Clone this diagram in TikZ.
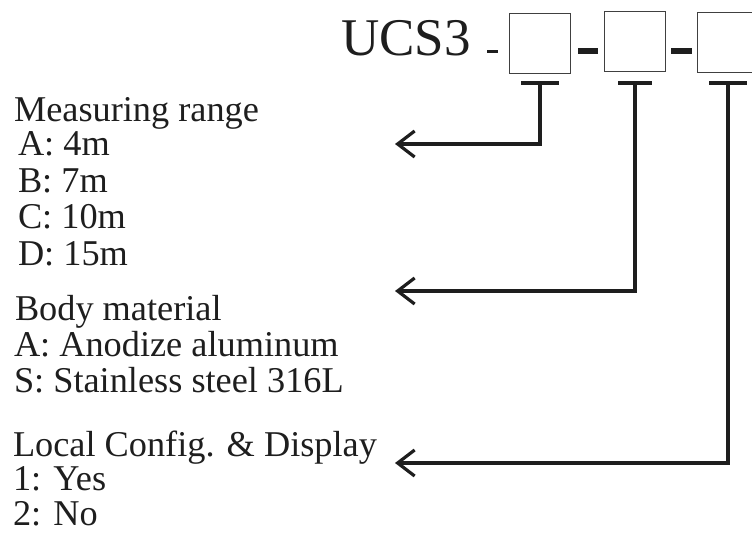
\documentclass[tikz,border=0pt]{standalone}
\usepackage{fontspec}
\setmainfont{Liberation Serif}
\usetikzlibrary{arrows.meta}
\definecolor{ink}{HTML}{1E1E1E}
\begin{document}
\begin{tikzpicture}[x=1pt,y=-1pt,
  lbl/.style={anchor=base west,inner sep=0pt,outer sep=0pt,text=ink,font=\fontsize{36.3}{36.3}\selectfont},
  codebox/.style={draw=ink!85,line width=1.3pt,inner sep=0pt,minimum width=61pt,minimum height=60pt,anchor=north west},
  thickdash/.style={ink,line width=6.5pt},
  tbar/.style={ink,line width=4pt},
  conn/.style={ink,line width=3.2pt,-{Straight Barb[length=17pt,width=26pt,line width=3.2pt]}}
]
\useasboundingbox (0,0) rectangle (752,533);
\clip (0,0) rectangle (752,533);
% title
\node[anchor=base west,inner sep=0pt,text=ink,font=\fontsize{53}{53}\selectfont] (title) at (341,55) {UCS3};
\draw[ink,line width=3pt] (487,51) -- (498,51);
% code boxes
\node[codebox] (b1) at (509,13) {};
\node[codebox] (b2) at (604,11) {};
\node[codebox] (b3) at (697,12) {};
\coordinate (d1a) at (578,51);
\coordinate (d1b) at (598,51);
\coordinate (d2a) at (671,51);
\coordinate (d2b) at (692,51);
\draw[thickdash] (d1a) -- (d1b);
\draw[thickdash] (d2a) -- (d2b);
% T bars
\draw[tbar] (521,83) -- (559,83);
\draw[tbar] (618,83) -- (652,83);
\draw[tbar] (709,83) -- (747,83);
\coordinate (s1) at (540,83);
\coordinate (s2) at (635,83);
\coordinate (s3) at (728,83);
\coordinate (e1) at (395,144);
\coordinate (e2) at (395,291);
\coordinate (e3) at (395,463);
\draw[conn] (s1) |- (e1);
\draw[conn] (s2) |- (e2);
\draw[conn] (s3) |- (e3);
% texts
\node[lbl] (mr) at (14,121) {Measuring range};
\node[lbl] (mrA) at (18,155) {A: 4m};
\node[lbl] (mrB) at (18,192) {B: 7m};
\node[lbl] (mrC) at (18,228) {C: 10m};
\node[lbl] (mrD) at (18,265) {D: 15m};
\node[lbl] (bm) at (15,320) {Body material};
\node[lbl] (bmA) at (14,356) {A: Anodize aluminum};
\node[lbl] (bmS) at (14,392) {S: Stainless steel 316L};
\node[lbl] (lc) at (13,456) {Local Config. \& Display};
\node[lbl] (lc1) at (13,490) {1: Yes};
\node[lbl] (lc2) at (13,525) {2: No};
\end{tikzpicture}
\end{document}
